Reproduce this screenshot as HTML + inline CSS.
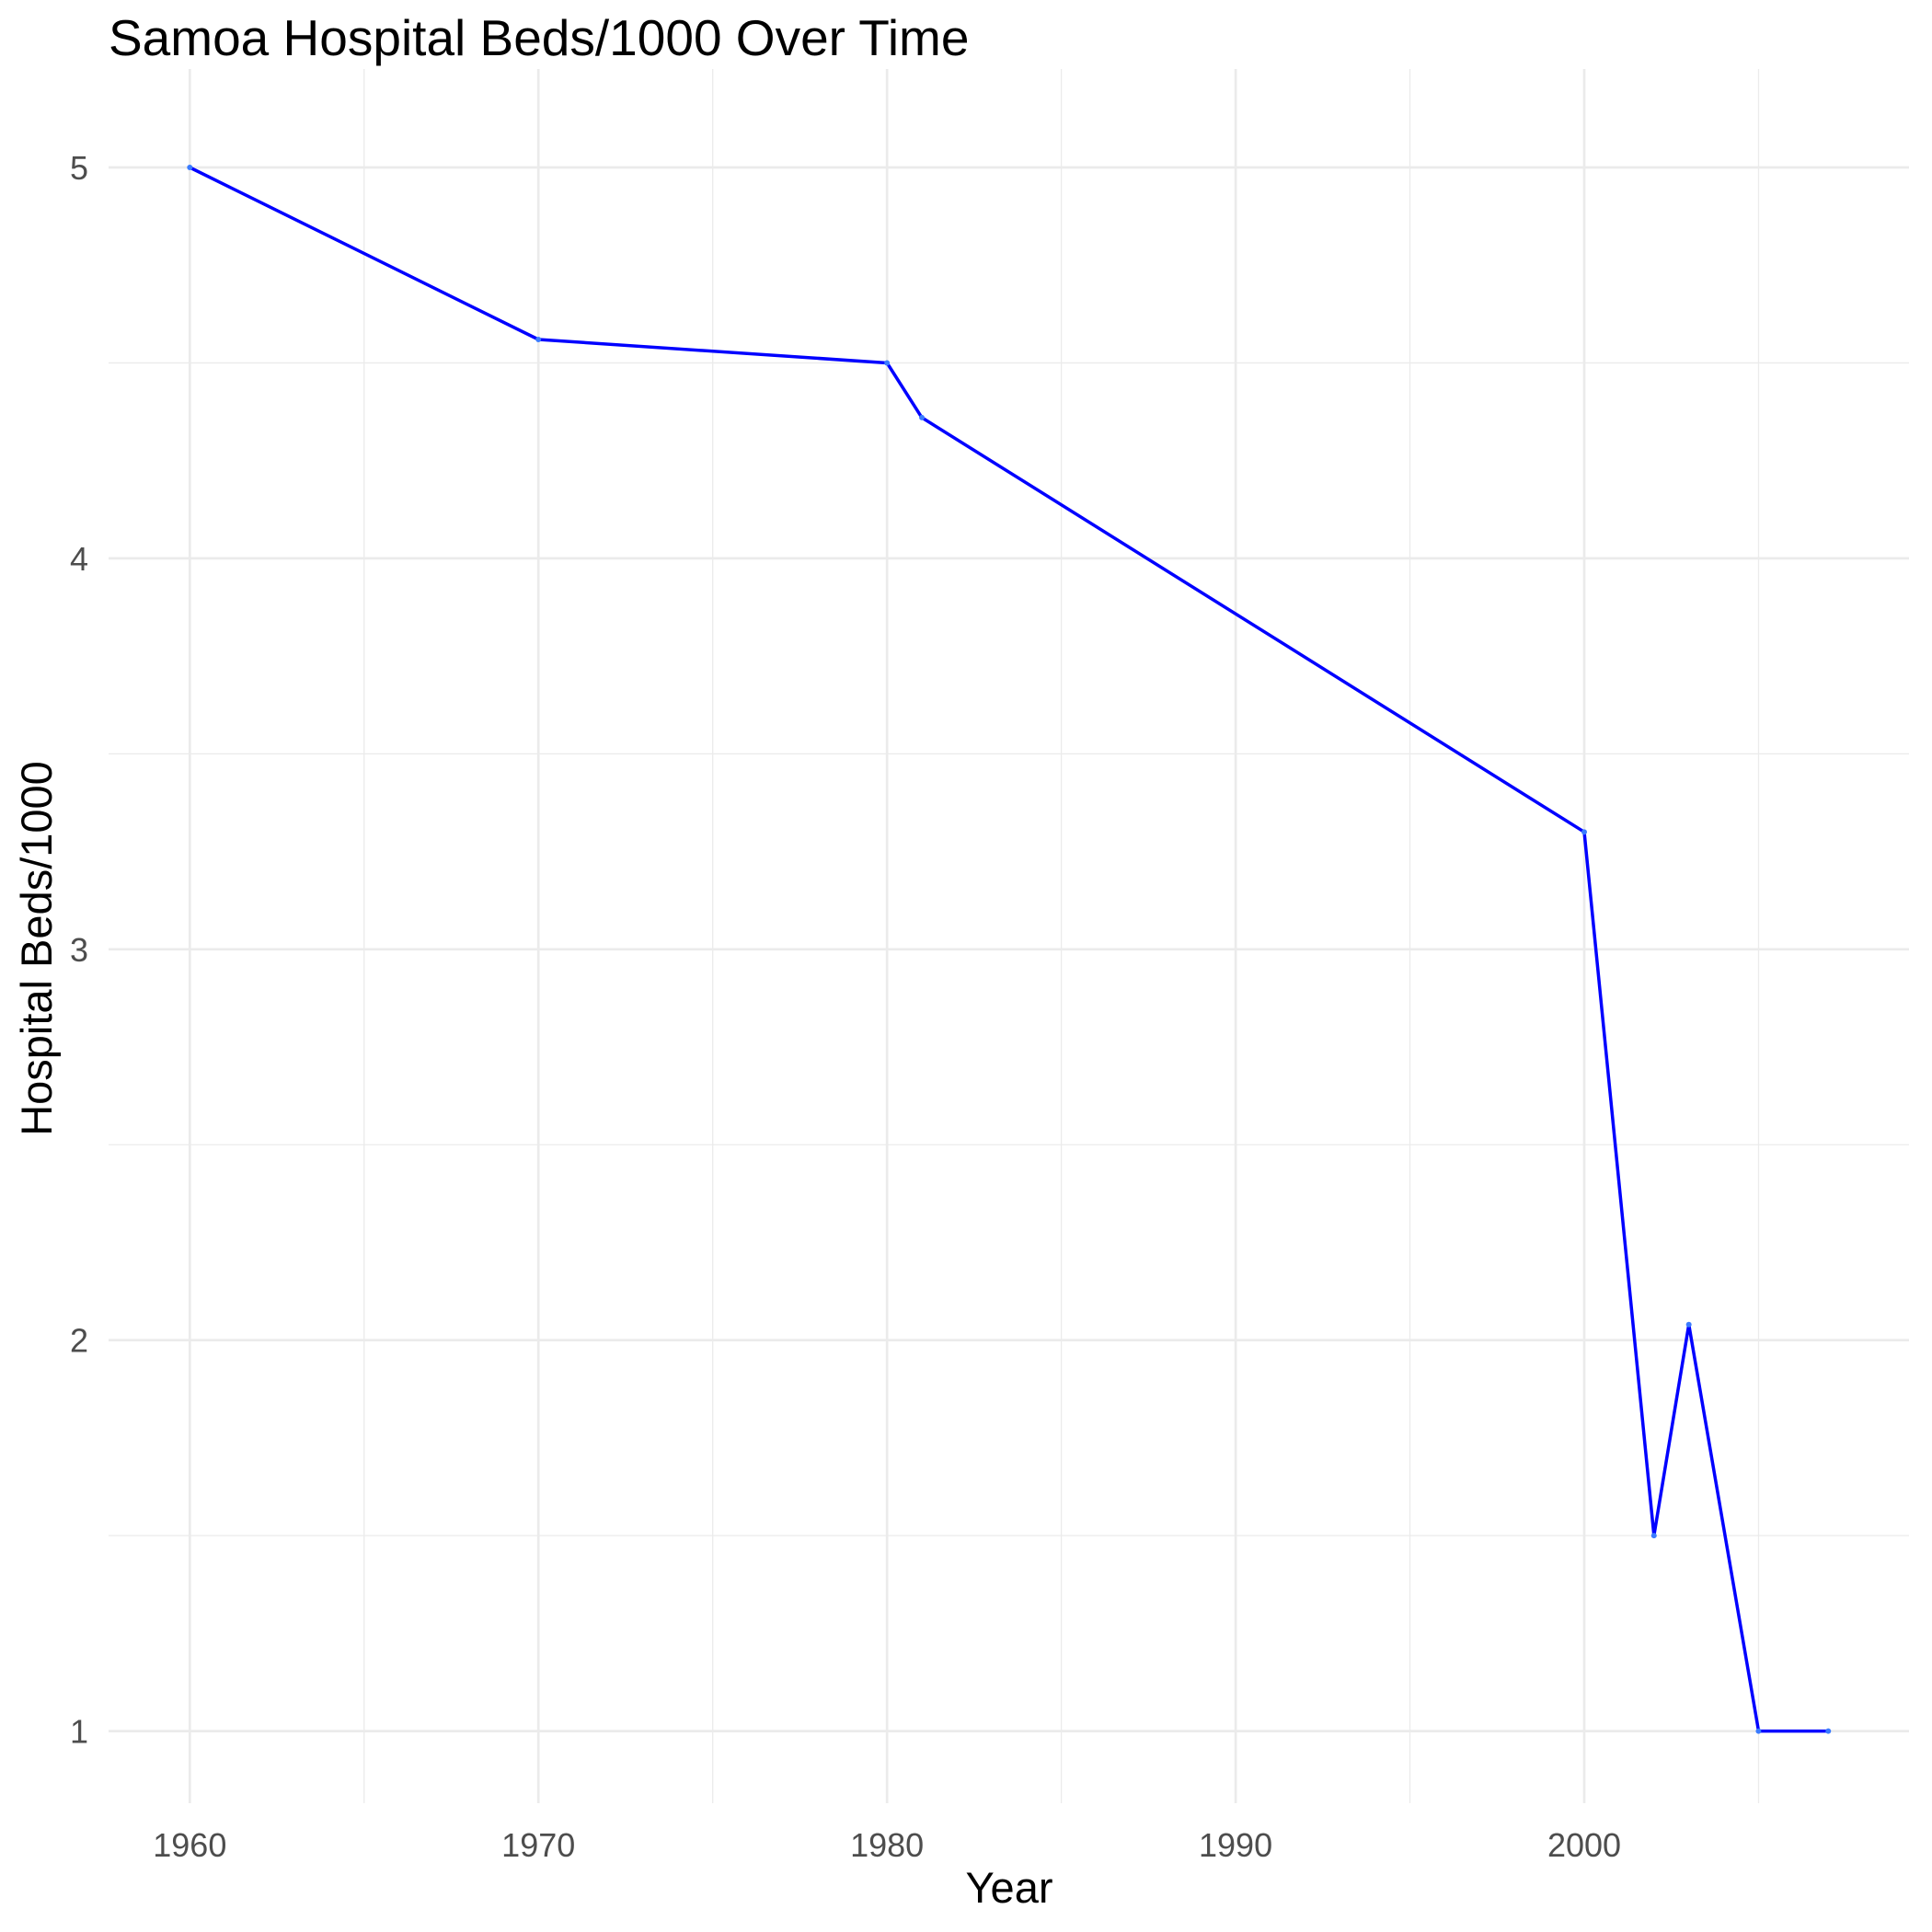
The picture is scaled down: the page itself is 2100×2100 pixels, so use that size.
<!DOCTYPE html>
<html><head><meta charset="utf-8"><style>
html,body{margin:0;padding:0;background:#fff;}
svg{display:block;font-family:"Liberation Sans",Arial,sans-serif;}
</style></head><body>
<svg id="chart" width="2100" height="2100" viewBox="0 0 2100 2100">
<text x="118" y="60" font-size="55" fill="#000">Samoa Hospital Beds/1000 Over Time</text>
<g id="grid"></g>
<g id="xticks"></g>
<g id="yticks"></g>
<g id="series"></g>
<text x="1097" y="2068" font-size="47" text-anchor="middle" fill="#000">Year</text>
<text transform="translate(56,1031) rotate(-90)" font-size="47" text-anchor="middle" fill="#000">Hospital Beds/1000</text>
</svg>
<script>
const years = [1960, 1970, 1980, 1981, 2000, 2002, 2003, 2005, 2007];
const beds = [5.0, 4.56, 4.5, 4.36, 3.3, 1.5, 2.04, 1.0, 1.0];
const xTicks = [1960, 1970, 1980, 1990, 2000];
const xMinor = [1965, 1975, 1985, 1995, 2005];
const yTicks = [1, 2, 3, 4, 5];
const yMinor = [1.5, 2.5, 3.5, 4.5];
const NS = "http://www.w3.org/2000/svg";
const L = 118, R = 2075, T = 75, B = 1960;
function xs(v){ return 206.3 + (v - 1960) * (1722 - 206.3) / 40; }
function ys(v){ return 1881.6 - (v - 1) * (1881.6 - 182) / 4; }
function mk(tag, attrs, parent){ const e = document.createElementNS(NS, tag); for (const k in attrs) e.setAttribute(k, attrs[k]); parent.appendChild(e); return e; }
const grid = document.getElementById('grid');
yMinor.forEach(v => { const l = mk('line', {x1:L, x2:R, y1:ys(v), y2:ys(v), stroke:'#ebebeb', 'stroke-width':1.3}, grid);
  
   });
xMinor.forEach(v => { const l = mk('line', {x1:xs(v), x2:xs(v), y1:T, y2:B, stroke:'#ebebeb', 'stroke-width':1.3}, grid);
  
   });
yTicks.forEach(v => { const l = mk('line', {x1:L, x2:R, y1:ys(v), y2:ys(v), stroke:'#ebebeb', 'stroke-width':2.7}, grid);
  
  
  const t = mk('text', {x:96, y:ys(v)+13, 'font-size':36, 'text-anchor':'end', fill:'#4d4d4d'}, document.getElementById('yticks'));
  t.textContent = v;
  
   });
xTicks.forEach(v => { const l = mk('line', {x1:xs(v), x2:xs(v), y1:T, y2:B, stroke:'#ebebeb', 'stroke-width':2.7}, grid);
  
  
  const t = mk('text', {x:xs(v), y:2018, 'font-size':36, 'text-anchor':'middle', fill:'#4d4d4d'}, document.getElementById('xticks'));
  t.textContent = v;
  
   });
const s = document.getElementById('series');
const pts = years.map((y,i) => xs(y).toFixed(1) + ',' + ys(beds[i]).toFixed(1)).join(' ');
const pl = mk('polyline', {points:pts, fill:'none', stroke:'#0000ff', 'stroke-width':3.5, 'stroke-linejoin':'round'}, s);


years.forEach((y,i) => { const c = mk('circle', {cx:xs(y), cy:ys(beds[i]), r:3, fill:'#3a7bff'}, s);
  
   });
</script>
</body></html>
